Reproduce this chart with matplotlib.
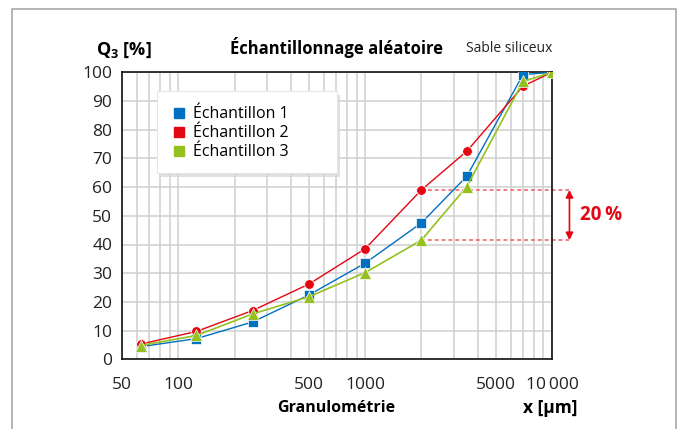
import numpy as np
import matplotlib
matplotlib.use('Agg')
import matplotlib.pyplot as plt
from matplotlib.lines import Line2D
from matplotlib.patches import Rectangle
from matplotlib.ticker import FixedLocator, NullFormatter

plt.rcParams['font.family'] = ['Open Sans', 'DejaVu Sans']
plt.rcParams['mathtext.fontset'] = 'custom'
plt.rcParams['mathtext.bf'] = 'Open Sans:bold'

# sieve sizes in µm and cumulative passing Q3 in %
x_um = [63, 125, 250, 500, 1000, 2000, 3500, 7000, 10000]
ech1 = [4.4, 7.2, 13.0, 22.4, 33.5, 47.5, 63.8, 99.2, 100]
ech2 = [5.3, 9.7, 17.0, 26.2, 38.5, 59.0, 72.5, 95.2, 100]
ech3 = [4.8, 8.3, 15.8, 21.8, 30.2, 41.5, 60.2, 96.8, 100]
series_names = ['Échantillon 1', 'Échantillon 2', 'Échantillon 3']

xtick_vals = [50, 100, 500, 1000, 5000, 10000]
xtick_labels = ['50', '100', '500', '1000', '5000', '10\u2009000']
ytick_vals = list(range(0, 101, 10))

c_blue = '#0070c0'
c_red = '#e30613'
c_green = '#95c11f'

W, H = 681, 429
fig = plt.figure(figsize=(W/100, H/100), dpi=100)
ax = fig.add_axes([122/W, 1-359.3/H, (552-122)/W, (359.3-72.3)/H])

ax.plot(x_um, ech1, color=c_blue, lw=1.0, marker='s', ms=6.5, mec='white', mew=0.5, zorder=3)
ax.plot(x_um, ech2, color=c_red, lw=1.0, marker='o', ms=7, mec='white', mew=0.6, zorder=4)
ax.plot(x_um, ech3, color=c_green, lw=1.2, marker='^', ms=8, mec='white', mew=0.5, zorder=5)

ax.set_xscale('log')
ax.set_xlim(50, 10000)
ax.set_ylim(0, 100)
ax.xaxis.set_major_locator(FixedLocator(xtick_vals))
ax.set_xticklabels(xtick_labels)
minor = [m*10**e for e in range(1, 4) for m in range(1, 10)]
minor = [v for v in minor if 50 < v < 10000 and v not in xtick_vals]
ax.xaxis.set_minor_locator(FixedLocator(minor))
ax.xaxis.set_minor_formatter(NullFormatter())
ax.set_yticks(ytick_vals)
ax.grid(which='both', color='#cfcfcf', lw=1.1)
ax.set_axisbelow(True)
ax.tick_params(which='both', length=0, labelsize=12.5, colors='#222222')
ax.tick_params(axis='x', pad=13)
ax.tick_params(axis='y', pad=7)
for s in ax.spines.values():
    s.set_color('#111111')
    s.set_linewidth(1.2)

# annotation: 20 % gap at 2000 µm
x_arrow = 12400
ax.plot([2000, x_arrow], [ech2[5], ech2[5]], ls=(0, (2.5, 2)), color='#ee5a60', lw=1.1, clip_on=False, zorder=2)
ax.plot([2000, x_arrow], [ech3[5], ech3[5]], ls=(0, (2.5, 2)), color='#ee5a60', lw=1.1, clip_on=False, zorder=2)
ax.annotate('', xy=(x_arrow, ech3[5]), xytext=(x_arrow, ech2[5]), annotation_clip=False,
            arrowprops=dict(arrowstyle='<|-|>', color=c_red, lw=1.2, mutation_scale=11, shrinkA=0, shrinkB=0))
ax.text(14100, (ech2[5]+ech3[5])/2, '20\u2009%', color=c_red, fontsize=13.5, fontweight='bold',
        ha='left', va='center', clip_on=False)

# legend box with soft shadow, drawn by hand to get the wide frame
fig.add_artist(Rectangle((160/W, 1-177/H), 180/W, 82/H, transform=fig.transFigure,
                         facecolor='#d4d4d4', edgecolor='none', alpha=0.7, zorder=6))
fig.add_artist(Rectangle((157/W, 1-173/H), 180/W, 82/H, transform=fig.transFigure,
                         facecolor='white', edgecolor='#e6e6e6', lw=0.8, zorder=7))
handles = [Line2D([], [], ls='none', marker='s', ms=7.5, color=c) for c in (c_blue, c_red, c_green)]
leg = fig.legend(handles, series_names, loc='upper left', bbox_to_anchor=(170/W, 1-103/H),
                 bbox_transform=fig.transFigure, borderaxespad=0, fontsize=11.5,
                 handlelength=0.7, handletextpad=0.55, labelspacing=0.19, borderpad=0.2,
                 frameon=False)
leg.set_zorder(8)

# texts
fig.text(336/W, 1-48/H, 'Échantillonnage aléatoire', fontsize=12, fontweight='bold',
         ha='center', va='center')
fig.text(552/W, 1-48/H, 'Sable siliceux', fontsize=10, ha='right', va='center', color='#222222')
fig.text(152/W, 1-50/H, r'Q$_\mathbf{3}$ [%]', fontsize=13, fontweight='bold',
         ha='right', va='center')
fig.text(336/W, 1-408/H, 'Granulométrie', fontsize=11.5, fontweight='bold', ha='center', va='center')
fig.text(550/W, 1-408/H, 'x [µm]', fontsize=12.5, fontweight='bold', ha='center', va='center')

# outer frame (open at the bottom)
fig.add_artist(Line2D([11.5/W, 11.5/W, 675.5/W, 675.5/W], [0, 1-8.5/H, 1-8.5/H, 0],
                      transform=fig.transFigure, color='#a8a8a8', lw=1.2))

fig.savefig('out.png', dpi=100)
